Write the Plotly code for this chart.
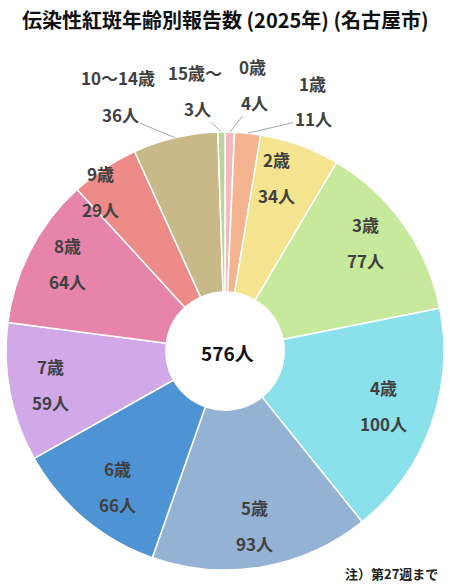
import math
import plotly.graph_objects as go

# ---- data ----
ages = ["0歳", "1歳", "2歳", "3歳", "4歳", "5歳", "6歳", "7歳", "8歳", "9歳", "10～14歳", "15歳～"]
counts = [4, 11, 34, 77, 100, 93, 66, 59, 64, 29, 36, 3]
colors = ["#F3B9BF", "#F4B48F", "#F4E38F", "#C6E99B", "#8BE1EB", "#94B2D4",
          "#4E93D3", "#D1A9E9", "#E684A9", "#EC8B87", "#C9B988", "#BAD49B"]
title_text = "伝染性紅斑年齢別報告数 (2025年) (名古屋市)"
note_text = "注）第27週まで"
unit = "人"

# ---- layout geometry (pixels) ----
W, H = 450, 586
CX, CY, R = 225, 351, 219
HOLE = 0.27
LABEL_R = 0.81
FONT = "Noto Sans CJK JP"
LABEL_COLOR = "#404040"
LABEL_SIZE = 17

# outside label placements (pixel centres of name / value text)
outside = {
    "0歳": ((252, 66), (254, 102)),
    "1歳": ((312, 83), (313, 118)),
    "10～14歳": ((118, 77), (120, 115)),
    "15歳～": ((195, 72), (197, 108)),
}
# small pixel nudges for inside labels
nudge = {
    "2歳": (-9, -7), "3歳": (-4, -6), "4歳": (-8, -6), "6歳": (7, 0),
    "8歳": (0, -6), "9歳": (-27, -11),
}

def px(x):
    return x / W

def py(y):
    return 1 - y / H

fig = go.Figure(go.Pie(
    labels=ages,
    values=counts,
    sort=False,
    direction="clockwise",
    rotation=0,
    hole=HOLE,
    marker=dict(colors=colors, line=dict(color="white", width=1.5)),
    textinfo="none",
    hoverinfo="label+value",
    showlegend=False,
    domain=dict(x=[px(CX - R), px(CX + R)], y=[py(CY + R), py(CY - R)]),
))

def label(x, y, text, size=LABEL_SIZE, color=LABEL_COLOR, **kw):
    d = dict(x=px(x), y=py(y), xref="paper", yref="paper",
             xanchor="center", yanchor="middle",
             text=f"<b>{text}</b>", showarrow=False,
             font=dict(family=FONT, size=size, color=color))
    d.update(kw)
    return d

annotations = []
total = sum(counts)
cum = 0
for name, val in zip(ages, counts):
    mid = (cum + val / 2) / total * 2 * math.pi
    cum += val
    s, c = math.sin(mid), math.cos(mid)
    vtext = f"{val}{unit}"
    if name in outside:
        (nx, ny), (vx, vy) = outside[name]
        ex, ey = CX + R * s, CY - R * c
        annotations.append(label(nx, ny, name))
        annotations.append(label(ex, ey, vtext, showarrow=True, arrowhead=0,
                                 arrowwidth=1, arrowcolor="#A6A6A6",
                                 axref="pixel", ayref="pixel",
                                 ax=vx - ex, ay=vy - ey))
    else:
        dx, dy = nudge.get(name, (0, 0))
        lx, ly = CX + LABEL_R * R * s + dx, CY - LABEL_R * R * c + dy
        annotations.append(label(lx, ly - 18, name))
        annotations.append(label(lx, ly + 18, vtext))

annotations.append(label(CX + 2, CY + 1, f"{total}{unit}", size=19, color="#111111"))
annotations.append(label(440, 573, note_text, size=13, color="#222222", xanchor="right"))
annotations.append(label(W / 2, 19, title_text, size=20, color="#111111"))

fig.update_layout(
    width=W, height=H,
    margin=dict(l=0, r=0, t=0, b=0),
    paper_bgcolor="white",
    plot_bgcolor="white",
    annotations=annotations,
)

fig.write_html("out.html", config={"displayModeBar": False},
               post_script="document.body.style.margin='0';")
